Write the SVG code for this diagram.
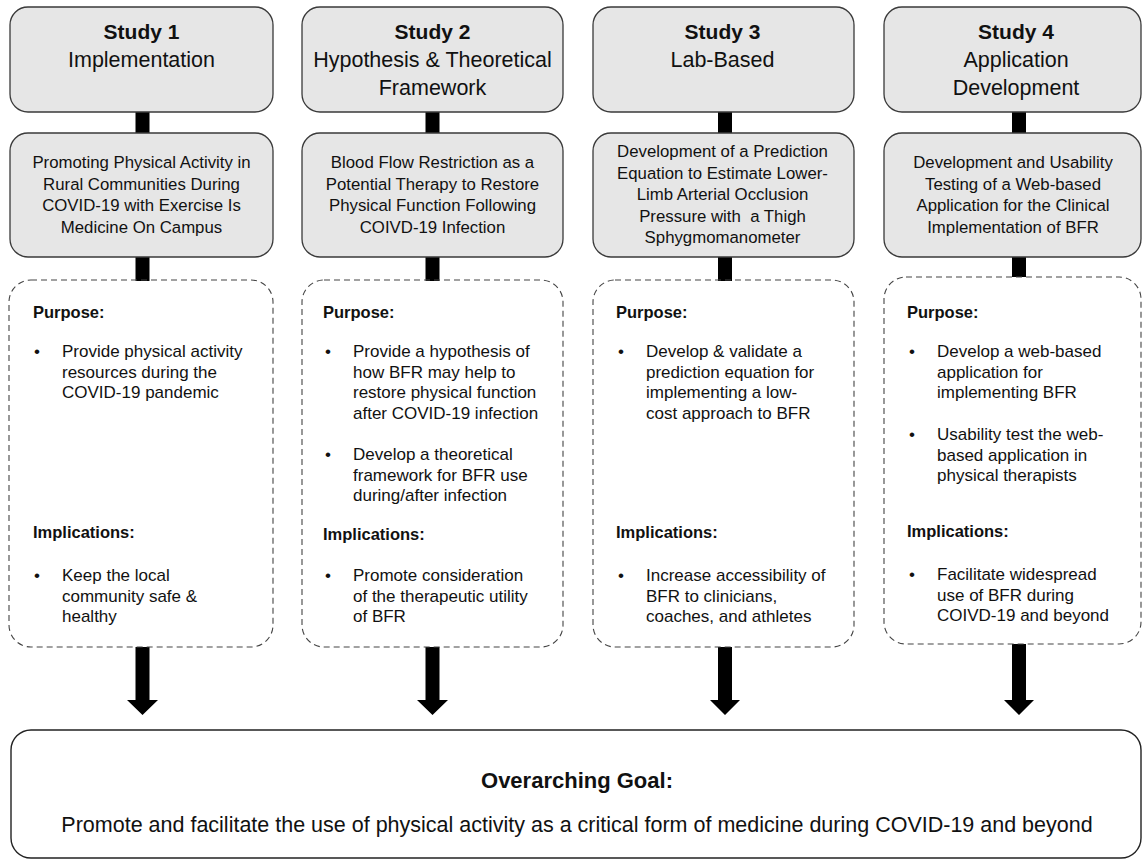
<svg xmlns="http://www.w3.org/2000/svg" width="1143" height="860" viewBox="0 0 1143 860">
<style>
text{font-family:"Liberation Sans",Arial,sans-serif;fill:#111}
.hd{fill:#e6e6e6;stroke:#3a3a3a;stroke-width:1.3}
.ds{fill:none;stroke:#444;stroke-width:1.1;stroke-dasharray:6 4}
.goal{fill:#fff;stroke:#222;stroke-width:1.4}
.t1{font-size:21px;font-weight:bold;text-anchor:middle}
.t2{font-size:21.5px;text-anchor:middle}
.mid{font-size:16.8px;text-anchor:middle;white-space:pre}
.lab{font-size:16.5px;font-weight:bold}
.bt{font-size:17px}
.g1{font-size:22px;font-weight:bold;text-anchor:middle}
.g2{font-size:21.5px;text-anchor:middle}
.bar{fill:#000}
</style>

<g id="connectors">
  <rect class="bar" x="135.5" y="111" width="14" height="23"/>
  <rect class="bar" x="425.5" y="111" width="14" height="23"/>
  <rect class="bar" x="718" y="111" width="14" height="23"/>
  <rect class="bar" x="1012" y="111" width="14" height="23"/>
  <rect class="bar" x="135.5" y="256" width="14" height="25"/>
  <rect class="bar" x="425.5" y="256" width="14" height="25"/>
  <rect class="bar" x="718" y="256" width="14" height="25"/>
  <rect class="bar" x="1012" y="256" width="14" height="21"/>
  <path class="bar" d="M135.5,647 V700 H127 L142.5,715 L158,700 H149.5 V647 Z"/>
  <path class="bar" d="M425.5,647 V700 H417 L432.5,715 L448,700 H439.5 V647 Z"/>
  <path class="bar" d="M718,647 V700 H710 L725,715 L740,700 H732 V647 Z"/>
  <path class="bar" d="M1012,644 V700 H1004 L1019,715 L1034,700 H1026 V644 Z"/>
</g>

<g id="study1-header">
  <rect class="hd" x="10" y="7" width="263" height="105" rx="18"/>
  <text class="t1" x="141.5" y="39">Study 1</text>
  <text class="t2" x="141.5" y="67">Implementation</text>
</g>
<g id="study2-header">
  <rect class="hd" x="302" y="7" width="261" height="105" rx="18"/>
  <text class="t1" x="432.5" y="39">Study 2</text>
  <text class="t2" x="432.5" y="67">Hypothesis &amp; Theoretical</text>
  <text class="t2" x="432.5" y="95">Framework</text>
</g>
<g id="study3-header">
  <rect class="hd" x="593" y="7" width="261" height="105" rx="18"/>
  <text class="t1" x="722.5" y="39">Study 3</text>
  <text class="t2" x="722.5" y="67">Lab-Based</text>
</g>
<g id="study4-header">
  <rect class="hd" x="884" y="7" width="257" height="105" rx="18"/>
  <text class="t1" x="1016" y="39">Study 4</text>
  <text class="t2" x="1016" y="67">Application</text>
  <text class="t2" x="1016" y="95">Development</text>
</g>

<g id="study1-title">
  <rect class="hd" x="10" y="133" width="263" height="124" rx="18"/>
  <text class="mid" x="141.5" y="168">Promoting Physical Activity in</text>
  <text class="mid" x="141.5" y="189.5">Rural Communities During</text>
  <text class="mid" x="141.5" y="211">COVID-19 with Exercise Is</text>
  <text class="mid" x="141.5" y="232.5">Medicine On Campus</text>
</g>
<g id="study2-title">
  <rect class="hd" x="302" y="133" width="261" height="124" rx="18"/>
  <text class="mid" x="432.5" y="168">Blood Flow Restriction as a</text>
  <text class="mid" x="432.5" y="189.5">Potential Therapy to Restore</text>
  <text class="mid" x="432.5" y="211">Physical Function Following</text>
  <text class="mid" x="432.5" y="232.5">COIVD-19 Infection</text>
</g>
<g id="study3-title">
  <rect class="hd" x="593" y="133" width="261" height="124" rx="18"/>
  <text class="mid" x="722.5" y="157">Development of a Prediction</text>
  <text class="mid" x="722.5" y="178.5">Equation to Estimate Lower-</text>
  <text class="mid" x="722.5" y="200">Limb Arterial Occlusion</text>
  <text class="mid" x="722.5" y="221.5">Pressure with  a Thigh</text>
  <text class="mid" x="722.5" y="243">Sphygmomanometer</text>
</g>
<g id="study4-title">
  <rect class="hd" x="884" y="133" width="257" height="124" rx="18"/>
  <text class="mid" x="1013" y="168">Development and Usability</text>
  <text class="mid" x="1013" y="189.5">Testing of a Web-based</text>
  <text class="mid" x="1013" y="211">Application for the Clinical</text>
  <text class="mid" x="1013" y="232.5">Implementation of BFR</text>
</g>

<g id="study1-details">
  <rect class="ds" x="9" y="280" width="264" height="367" rx="22"/>
  <text class="lab" x="33" y="318">Purpose:</text>
  <text class="bt" x="34" y="357">•</text>
  <text class="bt" x="62" y="357">Provide physical activity</text>
  <text class="bt" x="62" y="377.5">resources during the</text>
  <text class="bt" x="62" y="398">COVID-19 pandemic</text>
  <text class="lab" x="33" y="538">Implications:</text>
  <text class="bt" x="34" y="581">•</text>
  <text class="bt" x="62" y="581">Keep the local</text>
  <text class="bt" x="62" y="601.5">community safe &amp;</text>
  <text class="bt" x="62" y="622">healthy</text>
</g>
<g id="study2-details">
  <rect class="ds" x="302" y="280" width="261" height="367" rx="22"/>
  <text class="lab" x="323" y="318">Purpose:</text>
  <text class="bt" x="325" y="357">•</text>
  <text class="bt" x="353" y="357">Provide a hypothesis of</text>
  <text class="bt" x="353" y="377.5">how BFR may help to</text>
  <text class="bt" x="353" y="398">restore physical function</text>
  <text class="bt" x="353" y="418.5">after COVID-19 infection</text>
  <text class="bt" x="325" y="460">•</text>
  <text class="bt" x="353" y="460">Develop a theoretical</text>
  <text class="bt" x="353" y="480.5">framework for BFR use</text>
  <text class="bt" x="353" y="501">during/after infection</text>
  <text class="lab" x="323" y="540">Implications:</text>
  <text class="bt" x="325" y="581">•</text>
  <text class="bt" x="353" y="581">Promote consideration</text>
  <text class="bt" x="353" y="601.5">of the therapeutic utility</text>
  <text class="bt" x="353" y="622">of BFR</text>
</g>
<g id="study3-details">
  <rect class="ds" x="593" y="280" width="261" height="367" rx="22"/>
  <text class="lab" x="616" y="318">Purpose:</text>
  <text class="bt" x="618" y="357">•</text>
  <text class="bt" x="646" y="357">Develop &amp; validate a</text>
  <text class="bt" x="646" y="377.5">prediction equation for</text>
  <text class="bt" x="646" y="398">implementing a low-</text>
  <text class="bt" x="646" y="418.5">cost approach to BFR</text>
  <text class="lab" x="616" y="538">Implications:</text>
  <text class="bt" x="618" y="581">•</text>
  <text class="bt" x="646" y="581">Increase accessibility of</text>
  <text class="bt" x="646" y="601.5">BFR to clinicians,</text>
  <text class="bt" x="646" y="622">coaches, and athletes</text>
</g>
<g id="study4-details">
  <rect class="ds" x="884" y="277" width="257" height="367" rx="22"/>
  <text class="lab" x="907" y="318">Purpose:</text>
  <text class="bt" x="909" y="357">•</text>
  <text class="bt" x="937" y="357">Develop a web-based</text>
  <text class="bt" x="937" y="377.5">application for</text>
  <text class="bt" x="937" y="398">implementing BFR</text>
  <text class="bt" x="909" y="440">•</text>
  <text class="bt" x="937" y="440">Usability test the web-</text>
  <text class="bt" x="937" y="460.5">based application in</text>
  <text class="bt" x="937" y="481">physical therapists</text>
  <text class="lab" x="907" y="537">Implications:</text>
  <text class="bt" x="909" y="580">•</text>
  <text class="bt" x="937" y="580">Facilitate widespread</text>
  <text class="bt" x="937" y="600.5">use of BFR during</text>
  <text class="bt" x="937" y="621">COIVD-19 and beyond</text>
</g>

<g id="overarching-goal">
  <rect class="goal" x="11" y="730" width="1130" height="128" rx="20"/>
  <text class="g1" x="577" y="788">Overarching Goal:</text>
  <text class="g2" x="577" y="832">Promote and facilitate the use of physical activity as a critical form of medicine during COVID-19 and beyond</text>
</g>
</svg>
